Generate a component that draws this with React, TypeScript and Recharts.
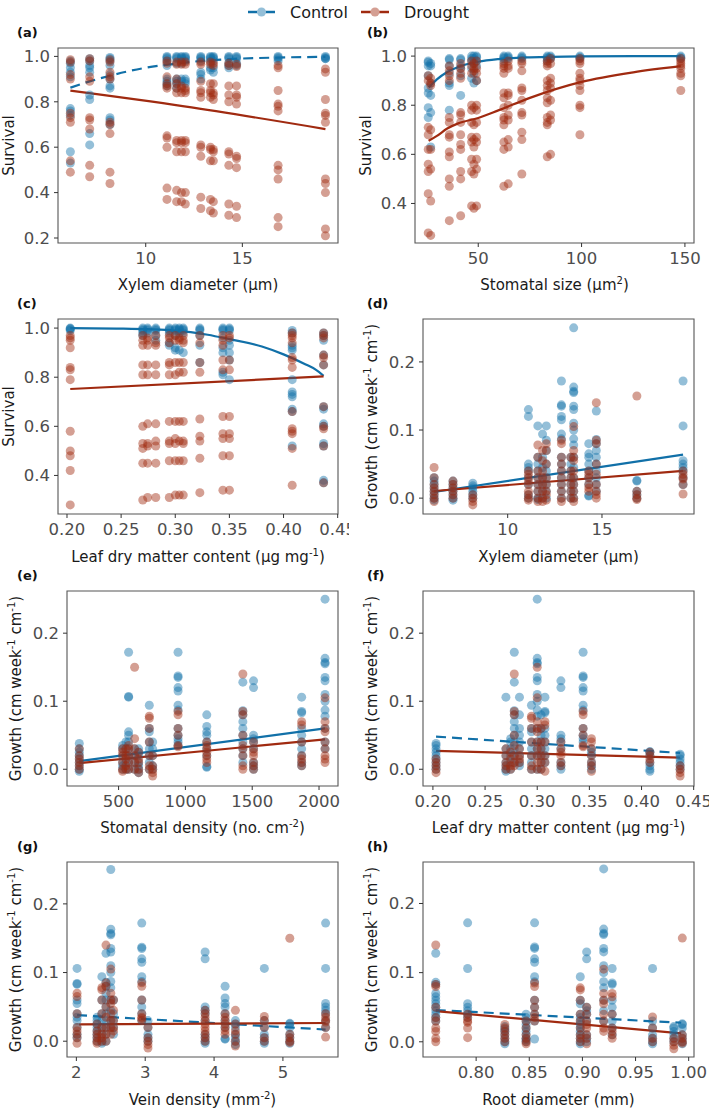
import { ComposedChart, Scatter, Line, XAxis, YAxis, ReferenceArea } from 'recharts'

const CONTROL = '#1170a8'
const DROUGHT = '#a02a10'
const FONT = 'DejaVu Sans, sans-serif'

// ---------- (a) survival vs xylem diameter ----------
const aX = [6.1, 7.1, 8.15, 11.1, 11.6, 11.85, 12.05, 12.85, 13.35, 13.5, 14.3, 14.7, 16.85, 19.3]
const aCtrl = [
  [0.98, 0.97, 0.95, 0.93, 0.91, 0.77, 0.76, 0.74, 0.58, 0.53],
  [0.99, 0.98, 0.96, 0.95, 0.93, 0.83, 0.81, 0.66, 0.61],
  [0.995, 0.99, 0.98, 0.96, 0.92, 0.9, 0.87, 0.86, 0.73, 0.72, 0.7],
  [1.0, 0.995, 0.99, 0.98, 0.96, 0.9, 0.89, 0.88, 0.87],
  [1.0, 0.995, 0.99, 0.97, 0.9, 0.89, 0.88, 0.86],
  [1.0, 0.995, 0.99, 0.97, 0.9, 0.89],
  [1.0, 0.995, 0.99, 0.98, 0.9, 0.89, 0.88],
  [1.0, 0.995, 0.99, 0.98, 0.93, 0.92, 0.9],
  [1.0, 0.995, 0.99, 0.98, 0.95, 0.94],
  [1.0, 0.995, 0.99, 0.98, 0.95, 0.93],
  [1.0, 0.995, 0.99, 0.97, 0.96, 0.95],
  [1.0, 0.995, 0.99, 0.97, 0.96],
  [1.0, 0.995, 0.99, 0.98],
  [1.0, 0.995, 0.99, 0.99],
]
const aDrought = [
  [0.985, 0.975, 0.92, 0.9, 0.75, 0.73, 0.71, 0.54, 0.49],
  [0.99, 0.98, 0.91, 0.89, 0.73, 0.72, 0.68, 0.52, 0.47],
  [0.985, 0.975, 0.93, 0.91, 0.9, 0.71, 0.7, 0.66, 0.49, 0.44],
  [0.98, 0.97, 0.91, 0.88, 0.87, 0.86, 0.65, 0.64, 0.6, 0.42, 0.37],
  [0.975, 0.965, 0.9, 0.88, 0.86, 0.84, 0.63, 0.62, 0.58, 0.41, 0.36],
  [0.975, 0.965, 0.87, 0.86, 0.84, 0.63, 0.62, 0.58, 0.4, 0.36],
  [0.975, 0.965, 0.86, 0.85, 0.84, 0.63, 0.62, 0.58, 0.4, 0.35],
  [0.975, 0.965, 0.89, 0.85, 0.84, 0.82, 0.61, 0.6, 0.56, 0.38, 0.33],
  [0.975, 0.965, 0.88, 0.85, 0.84, 0.82, 0.6, 0.59, 0.54, 0.37, 0.32],
  [0.97, 0.96, 0.88, 0.84, 0.83, 0.81, 0.59, 0.58, 0.54, 0.36, 0.31],
  [0.97, 0.96, 0.87, 0.83, 0.8, 0.58, 0.57, 0.52, 0.35, 0.3],
  [0.965, 0.955, 0.87, 0.83, 0.82, 0.79, 0.56, 0.55, 0.51, 0.34, 0.29],
  [0.96, 0.95, 0.85, 0.79, 0.78, 0.76, 0.52, 0.5, 0.46, 0.29, 0.25],
  [0.945, 0.93, 0.81, 0.75, 0.74, 0.71, 0.46, 0.44, 0.4, 0.24, 0.21],
]
const aFitCtrlX = [6.1, 7.1, 8.15, 10, 11.6, 12.85, 14.3, 16.85, 19.3]
const aFitCtrlY = [0.862, 0.89, 0.915, 0.95, 0.968, 0.98, 0.988, 0.995, 0.998]
const aFitDroughtX = [6.1, 12, 19.3]
const aFitDroughtY = [0.849, 0.78, 0.68]

// ---------- (b) survival vs stomatal size ----------
const bX = [25.8, 27, 36, 41.5, 46.8, 47.9, 49.2, 62.4, 64.5, 71.1, 83.4, 85, 99.2, 148]
const bCtrl = [
  [0.98, 0.975, 0.96, 0.92, 0.87, 0.85, 0.79, 0.75],
  [0.97, 0.96, 0.89, 0.84, 0.77, 0.63],
  [0.99, 0.985, 0.96, 0.93, 0.89, 0.88, 0.78],
  [0.99, 0.985, 0.96, 0.95, 0.92, 0.84],
  [1.0, 0.99, 0.98, 0.95, 0.91],
  [1.0, 0.99, 0.97, 0.93, 0.89],
  [1.0, 0.995, 0.98, 0.96, 0.9],
  [1.0, 0.995, 0.99, 0.98],
  [1.0, 0.995, 0.99],
  [1.0, 0.995, 0.99],
  [1.0, 0.995, 0.99, 0.98],
  [1.0, 0.995, 0.99],
  [1.0, 0.995, 0.99],
  [1.0, 0.995, 0.99],
]
const bDrought = [
  [0.92, 0.9, 0.71, 0.68, 0.62, 0.56, 0.53, 0.44, 0.28],
  [0.91, 0.89, 0.88, 0.7, 0.62, 0.54, 0.41, 0.27],
  [0.96, 0.94, 0.92, 0.9, 0.75, 0.73, 0.68, 0.67, 0.61, 0.59, 0.5, 0.47, 0.33],
  [0.97, 0.95, 0.93, 0.91, 0.77, 0.76, 0.73, 0.68, 0.64, 0.62, 0.53, 0.5, 0.35],
  [0.98, 0.96, 0.93, 0.8, 0.78, 0.73, 0.67, 0.65, 0.58, 0.53, 0.39],
  [0.97, 0.95, 0.94, 0.79, 0.72, 0.66, 0.63, 0.56, 0.52, 0.38],
  [0.98, 0.95, 0.93, 0.9, 0.8, 0.78, 0.73, 0.67, 0.65, 0.58, 0.54, 0.39],
  [0.97, 0.96, 0.95, 0.93, 0.85, 0.83, 0.79, 0.75, 0.74, 0.72, 0.65, 0.62, 0.47],
  [0.98, 0.96, 0.95, 0.85, 0.84, 0.8, 0.76, 0.74, 0.66, 0.63, 0.48],
  [0.98, 0.97, 0.94, 0.87, 0.86, 0.82, 0.77, 0.76, 0.69, 0.66, 0.52],
  [0.98, 0.97, 0.96, 0.9, 0.88, 0.86, 0.83, 0.81, 0.75, 0.73, 0.72, 0.59],
  [0.99, 0.97, 0.91, 0.89, 0.87, 0.82, 0.76, 0.74, 0.6],
  [0.99, 0.98, 0.97, 0.93, 0.91, 0.9, 0.88, 0.86, 0.8, 0.79, 0.68],
  [0.99, 0.98, 0.97, 0.96, 0.95, 0.93, 0.92, 0.86],
]
const bFitX = [26, 30, 35, 40, 50, 60, 75, 100, 125, 148]
const bFitCtrlY = [0.872, 0.905, 0.935, 0.955, 0.977, 0.988, 0.995, 0.999, 1.0, 1.0]
const bFitDroughtY = [0.655, 0.675, 0.705, 0.725, 0.748, 0.78, 0.83, 0.895, 0.934, 0.959]

// ---------- (c) survival vs leaf dry matter content ----------
const cX = [0.203, 0.27, 0.2745, 0.282, 0.2945, 0.3, 0.3037, 0.3074, 0.3227, 0.344, 0.35, 0.408, 0.437]
const cCtrl = [
  [1.0, 0.998, 0.995, 0.99],
  [1.0, 0.995, 0.99, 0.98, 0.97],
  [1.0, 0.995, 0.99, 0.98],
  [1.0, 0.995, 0.99, 0.97, 0.95],
  [1.0, 0.995, 0.99, 0.98, 0.94, 0.93],
  [1.0, 0.995, 0.99, 0.97, 0.92, 0.91],
  [1.0, 0.995, 0.99, 0.98, 0.91],
  [1.0, 0.995, 0.99, 0.98, 0.9],
  [1.0, 0.995, 0.99, 0.97, 0.93, 0.86],
  [1.0, 0.995, 0.99, 0.96, 0.92, 0.9, 0.82, 0.81],
  [1.0, 0.995, 0.99, 0.95, 0.93, 0.9, 0.87, 0.79],
  [0.99, 0.98, 0.93, 0.92, 0.91, 0.79, 0.74, 0.73, 0.72, 0.67, 0.66, 0.52],
  [0.98, 0.97, 0.95, 0.89, 0.85, 0.68, 0.67, 0.61, 0.6, 0.53, 0.52, 0.38, 0.37],
]
const cDrought = [
  [0.97, 0.96, 0.95, 0.92, 0.84, 0.83, 0.79, 0.58, 0.5, 0.48, 0.42, 0.28],
  [0.97, 0.95, 0.93, 0.85, 0.81, 0.6, 0.53, 0.51, 0.45, 0.3],
  [0.96, 0.95, 0.93, 0.85, 0.81, 0.61, 0.53, 0.52, 0.45, 0.31],
  [0.97, 0.94, 0.93, 0.85, 0.81, 0.61, 0.54, 0.52, 0.45, 0.31],
  [0.97, 0.96, 0.94, 0.86, 0.85, 0.81, 0.62, 0.54, 0.53, 0.46, 0.31],
  [0.97, 0.95, 0.86, 0.81, 0.62, 0.55, 0.53, 0.46, 0.32],
  [0.96, 0.95, 0.86, 0.82, 0.62, 0.54, 0.46, 0.32],
  [0.97, 0.95, 0.94, 0.86, 0.82, 0.62, 0.54, 0.53, 0.46, 0.32],
  [0.97, 0.94, 0.86, 0.82, 0.63, 0.56, 0.54, 0.47, 0.33],
  [0.97, 0.95, 0.93, 0.87, 0.83, 0.64, 0.57, 0.55, 0.48, 0.34],
  [0.97, 0.96, 0.87, 0.83, 0.64, 0.57, 0.55, 0.48, 0.34],
  [0.98, 0.97, 0.96, 0.94, 0.88, 0.87, 0.84, 0.66, 0.59, 0.58, 0.57, 0.51, 0.36],
  [0.98, 0.97, 0.96, 0.89, 0.88, 0.85, 0.68, 0.6, 0.59, 0.52, 0.37],
]
const cFitCtrlX = [0.203, 0.25, 0.3, 0.33, 0.35, 0.38, 0.4, 0.42, 0.43, 0.437]
const cFitCtrlY = [1.0, 0.998, 0.99, 0.973, 0.955, 0.925, 0.893, 0.853, 0.83, 0.806]
const cFitDroughtX = [0.203, 0.437]
const cFitDroughtY = [0.752, 0.803]

// ---------- (d) growth vs xylem diameter ----------
const dX = aX
const dCtrl = [
  [0.03, 0.025, 0.02, 0.015, 0.01, 0.005, 0.0, -0.003],
  [0.025, 0.02, 0.015, 0.01, 0.005, 0.0, -0.003],
  [0.022, 0.018, 0.015, 0.01, 0.005, 0.0],
  [0.13, 0.12, 0.05, 0.045, 0.04, 0.03, 0.02, 0.005, 0.0],
  [0.106, 0.06, 0.05, 0.04, 0.03, 0.02, 0.01, 0.0, -0.002],
  [0.094, 0.06, 0.045, 0.03, 0.02, 0.01, 0.0],
  [0.106, 0.085, 0.07, 0.05, 0.04, 0.03, 0.02, 0.01, 0.0],
  [0.172, 0.137, 0.135, 0.12, 0.115, 0.094, 0.087, 0.06, 0.05, 0.04, 0.03, 0.02, 0.01, 0.0],
  [0.06, 0.05, 0.04, 0.03, 0.02, 0.01, 0.0],
  [0.25, 0.163, 0.157, 0.155, 0.135, 0.13, 0.11, 0.1, 0.087, 0.078, 0.06, 0.045, 0.03, 0.02, 0.01, 0.0],
  [0.08, 0.065, 0.06, 0.05, 0.04, 0.03, 0.02, 0.004, 0.003],
  [0.128, 0.086, 0.08, 0.07, 0.06, 0.05, 0.04, 0.03, 0.02, 0.01],
  [0.026, 0.025, 0.01, 0.005, 0.0],
  [0.172, 0.106, 0.055, 0.05, 0.045, 0.04, 0.03, 0.02],
]
const dDrought = [
  [0.045, 0.03, 0.02, 0.015, 0.01, 0.005, 0.0, -0.005],
  [0.025, 0.02, 0.015, 0.01, 0.005, 0.0],
  [0.005, 0.0, -0.005, -0.01],
  [0.04, 0.035, 0.03, 0.025, 0.02, 0.01, 0.005, 0.0, -0.003],
  [0.078, 0.06, 0.04, 0.03, 0.02, 0.01, 0.0, -0.005],
  [0.07, 0.055, 0.04, 0.03, 0.02, 0.01, 0.0, -0.005],
  [0.08, 0.07, 0.05, 0.03, 0.02, 0.01, 0.005, -0.003],
  [0.085, 0.08, 0.06, 0.05, 0.04, 0.03, 0.02, 0.01, 0.0, -0.005],
  [0.06, 0.04, 0.03, 0.02, 0.01, 0.0],
  [0.105, 0.07, 0.06, 0.055, 0.04, 0.03, 0.02, 0.01, 0.0, -0.005],
  [0.04, 0.035, 0.03, 0.02, 0.015, 0.01],
  [0.14, 0.085, 0.08, 0.05, 0.035, 0.02, 0.01, 0.005, 0.0],
  [0.15, 0.01, 0.005, 0.0, -0.002],
  [0.04, 0.035, 0.03, 0.028, 0.02, 0.006],
]
const dFitX = [6.1, 19.3]
const dFitCtrlY = [0.009, 0.064]
const dFitDroughtY = [0.0105, 0.04]

// ---------- (e) growth vs stomatal density ----------
const eX = [206, 530, 555, 575, 620, 650, 730, 755, 945, 1160, 1430, 1510, 1870, 2045]
const eCtrl = [
  [0.038, 0.03, 0.025, 0.02, 0.015, 0.01, 0.005, 0.0, -0.003],
  [0.035, 0.03, 0.02, 0.01, 0.005, 0.0],
  [0.04, 0.03, 0.02, 0.01, 0.0],
  [0.172, 0.107, 0.106, 0.055, 0.05, 0.04, 0.03, 0.02, 0.01, 0.0],
  [0.03, 0.02, 0.01, 0.0],
  [0.03, 0.025, 0.02, 0.01, 0.005, 0.0, -0.005],
  [0.094, 0.06, 0.055, 0.04, 0.03, 0.02, 0.01, 0.0],
  [0.04, 0.03, 0.02, 0.005, 0.0],
  [0.172, 0.137, 0.135, 0.12, 0.115, 0.094, 0.087, 0.06, 0.05, 0.045, 0.04, 0.035],
  [0.08, 0.063, 0.055, 0.05, 0.04, 0.03, 0.02, 0.004, 0.003],
  [0.128, 0.086, 0.08, 0.07, 0.06, 0.05, 0.04, 0.03, 0.02, 0.01],
  [0.13, 0.12, 0.05, 0.045, 0.04, 0.03, 0.01, 0.005, 0.0],
  [0.106, 0.085, 0.083, 0.06, 0.05, 0.04, 0.03, 0.02, 0.01, 0.005],
  [0.25, 0.163, 0.157, 0.155, 0.135, 0.13, 0.11, 0.1, 0.087, 0.078, 0.06, 0.04, 0.03],
]
const eDrought = [
  [0.03, 0.02, 0.015, 0.01, 0.005, 0.0],
  [0.03, 0.025, 0.02, 0.01, 0.0, -0.003],
  [0.03, 0.02, 0.015, 0.005, 0.0],
  [0.035, 0.03, 0.02, 0.01, 0.0],
  [0.15, 0.045, 0.03, 0.02, 0.01, 0.0],
  [0.025, 0.015, 0.01, 0.0, -0.005],
  [0.078, 0.075, 0.06, 0.04, 0.02, 0.005, 0.0],
  [0.02, 0.005, 0.0, -0.005, -0.01],
  [0.085, 0.08, 0.06, 0.05, 0.035, 0.033],
  [0.04, 0.035, 0.03, 0.025, 0.02, 0.015, 0.01],
  [0.14, 0.085, 0.08, 0.05, 0.035, 0.03, 0.02, 0.005, 0.0],
  [0.04, 0.03, 0.025, 0.02, 0.01, 0.005, 0.0],
  [0.07, 0.065, 0.04, 0.02, 0.015, 0.01, 0.005],
  [0.105, 0.07, 0.06, 0.055, 0.04, 0.03, 0.02, 0.015, 0.01],
]
const eFitX = [206, 2045]
const eFitCtrlY = [0.012, 0.06]
const eFitDroughtY = [0.009, 0.044]

// ---------- (f) growth vs leaf dry matter content ----------
const fX = [0.203, 0.27, 0.2745, 0.278, 0.283, 0.2945, 0.3, 0.3037, 0.3074, 0.3227, 0.344, 0.352, 0.408, 0.437]
const fCtrl = [
  [0.038, 0.035, 0.03, 0.025, 0.02, 0.015, 0.01, 0.005, 0.0],
  [0.106, 0.03, 0.02, 0.01, 0.005, 0.0, -0.003],
  [0.045, 0.04, 0.03, 0.02, 0.01, 0.0],
  [0.172, 0.128, 0.086, 0.08, 0.07, 0.06, 0.05, 0.04, 0.03, 0.02, 0.01],
  [0.106, 0.08, 0.06, 0.05, 0.04, 0.03, 0.02, 0.01, 0.005],
  [0.094, 0.06, 0.055, 0.04, 0.03, 0.02, 0.01, 0.0],
  [0.25, 0.163, 0.157, 0.155, 0.135, 0.13, 0.11, 0.1, 0.087, 0.078, 0.06, 0.04, 0.03, 0.02, 0.0],
  [0.08, 0.06, 0.05, 0.04, 0.03, 0.02, 0.01, 0.0],
  [0.106, 0.085, 0.083, 0.06, 0.05, 0.04, 0.03, 0.02, 0.01],
  [0.13, 0.12, 0.05, 0.045, 0.04, 0.03, 0.01, 0.005, 0.0],
  [0.172, 0.137, 0.135, 0.12, 0.115, 0.094, 0.087, 0.06, 0.05, 0.045, 0.04],
  [0.03, 0.025, 0.02, 0.01, 0.005, 0.0],
  [0.026, 0.025, 0.02, 0.01, 0.005, 0.0, -0.003],
  [0.022, 0.02, 0.015, 0.01, 0.005, 0.0],
]
const fDrought = [
  [0.015, 0.01, 0.005, 0.0, -0.005],
  [0.03, 0.02, 0.01, 0.005, 0.0],
  [0.025, 0.015, 0.005, 0.0],
  [0.14, 0.085, 0.08, 0.05, 0.035, 0.02, 0.01, 0.005],
  [0.03, 0.02, 0.015, 0.01],
  [0.078, 0.075, 0.06, 0.04, 0.02, 0.005, 0.0],
  [0.15, 0.105, 0.07, 0.06, 0.055, 0.04, 0.03, 0.02, 0.01, 0.0],
  [0.06, 0.04, 0.03, 0.02, 0.01, 0.0],
  [0.07, 0.065, 0.04, 0.02, 0.01, -0.003],
  [0.04, 0.03, 0.025, 0.02, 0.01, 0.005],
  [0.085, 0.08, 0.06, 0.05, 0.035, 0.033],
  [0.045, 0.04, 0.03, 0.02, 0.01, 0.005, -0.003],
  [0.025, 0.02, 0.015, 0.01],
  [0.005, 0.0, -0.005, -0.01],
]
const fFitX = [0.203, 0.437]
const fFitCtrlY = [0.048, 0.024]
const fFitDroughtY = [0.027, 0.017]

// ---------- (g) growth vs vein density ----------
const gX = [2.01, 2.3, 2.37, 2.43, 2.5, 2.54, 2.95, 3.04, 3.87, 4.16, 4.31, 4.73, 5.1, 5.62]
const gCtrl = [
  [0.106, 0.084, 0.083, 0.06, 0.055, 0.04, 0.035, 0.03, 0.02, 0.01, 0.005],
  [0.035, 0.03, 0.025, 0.02, 0.015, 0.01, 0.005, 0.0],
  [0.094, 0.06, 0.04, 0.03, 0.02, 0.01, 0.0, -0.003],
  [0.128, 0.086, 0.08, 0.07, 0.06, 0.05, 0.04, 0.03, 0.02, 0.01, 0.0],
  [0.25, 0.163, 0.157, 0.155, 0.135, 0.13, 0.11, 0.1, 0.087, 0.078, 0.06, 0.045, 0.03, 0.02],
  [0.06, 0.04, 0.03, 0.02, 0.01],
  [0.172, 0.137, 0.135, 0.12, 0.115, 0.094, 0.087, 0.06, 0.05, 0.04, 0.03],
  [0.03, 0.02, 0.01, 0.005, 0.0],
  [0.13, 0.12, 0.05, 0.045, 0.04, 0.03, 0.01, 0.005, 0.0, -0.003],
  [0.08, 0.063, 0.055, 0.05, 0.04, 0.03, 0.02, 0.004, 0.003],
  [0.03, 0.025, 0.02, 0.01, 0.005, 0.0, -0.005],
  [0.106, 0.03, 0.02, 0.01, 0.005, 0.0, -0.003],
  [0.026, 0.025, 0.02, 0.01, 0.005, 0.0, -0.003],
  [0.172, 0.106, 0.055, 0.05, 0.045, 0.04, 0.03, 0.02],
]
const gDrought = [
  [0.07, 0.065, 0.04, 0.02, 0.015, 0.01, 0.005, -0.003],
  [0.025, 0.015, 0.01, 0.005, 0.0, -0.003],
  [0.078, 0.075, 0.06, 0.04, 0.02, 0.01, 0.005, 0.0],
  [0.14, 0.085, 0.08, 0.05, 0.035, 0.02, 0.01, 0.0],
  [0.105, 0.07, 0.06, 0.055, 0.04, 0.03, 0.02, 0.01],
  [0.06, 0.045, 0.03, 0.02, 0.015],
  [0.085, 0.08, 0.06, 0.04, 0.035, 0.033, 0.03],
  [0.02, 0.005, 0.0, -0.005, -0.01],
  [0.045, 0.04, 0.035, 0.03, 0.025, 0.02, 0.015, 0.01, 0.005, 0.0],
  [0.04, 0.035, 0.03, 0.025, 0.02, 0.015, 0.01],
  [0.045, 0.025, 0.015, 0.01, 0.0, -0.007],
  [0.036, 0.03, 0.02, 0.005, 0.0],
  [0.15, 0.01, 0.005, 0.0, -0.002],
  [0.04, 0.035, 0.03, 0.028, 0.02, 0.006],
]
const gFitCtrlX = [2.01, 5.62]
const gFitCtrlY = [0.038, 0.017]
const gFitDroughtX = [2.04, 5.62]
const gFitDroughtY = [0.0245, 0.0265]

// ---------- (h) growth vs root diameter ----------
const hX = [0.762, 0.792, 0.827, 0.847, 0.855, 0.898, 0.904, 0.92, 0.928, 0.966, 0.986, 0.994]
const hCtrl = [
  [0.128, 0.086, 0.083, 0.07, 0.065, 0.06, 0.055, 0.05, 0.045, 0.04, 0.035, 0.03],
  [0.172, 0.106, 0.055, 0.05, 0.045, 0.04, 0.035],
  [0.022, 0.018, 0.015, 0.01, 0.005, 0.0, -0.003],
  [0.04, 0.035, 0.03, 0.025, 0.02, 0.015, 0.01, 0.005, 0.003, 0.0],
  [0.172, 0.137, 0.135, 0.12, 0.115, 0.094, 0.087, 0.06, 0.05, 0.04, 0.03, 0.004],
  [0.094, 0.06, 0.055, 0.04, 0.035, 0.03, 0.025, 0.02, 0.015, 0.01, 0.005, 0.0, -0.003],
  [0.13, 0.12, 0.05, 0.045, 0.04, 0.03, 0.01, 0.005, 0.0],
  [0.25, 0.163, 0.157, 0.155, 0.135, 0.13, 0.11, 0.1, 0.087, 0.078, 0.06, 0.045, 0.03],
  [0.106, 0.085, 0.083, 0.06, 0.05, 0.04, 0.03, 0.02, 0.01],
  [0.106, 0.03, 0.02, 0.01, 0.005, 0.0, -0.003],
  [0.022, 0.02, 0.015, 0.01, 0.005, 0.0],
  [0.026, 0.025, 0.02, 0.01, 0.005, 0.0, -0.003],
]
const hDrought = [
  [0.14, 0.083, 0.08, 0.05, 0.035, 0.03, 0.02, 0.015, 0.005, 0.0],
  [0.04, 0.035, 0.03, 0.028, 0.02, 0.006],
  [0.025, 0.02, 0.015, 0.01, 0.005, 0.0],
  [0.03, 0.02, 0.01, 0.005, 0.0, -0.003],
  [0.085, 0.08, 0.06, 0.05, 0.04, 0.035, 0.03],
  [0.078, 0.075, 0.06, 0.04, 0.03, 0.02, 0.01, 0.005, 0.0],
  [0.05, 0.04, 0.03, 0.025, 0.02, 0.01, 0.005, -0.003],
  [0.105, 0.07, 0.06, 0.055, 0.04, 0.03, 0.02, 0.015],
  [0.07, 0.065, 0.04, 0.02, 0.015, 0.01, 0.005],
  [0.036, 0.02, 0.005, 0.0],
  [0.005, 0.0, -0.005, -0.01],
  [0.15, 0.01, 0.005, 0.0, -0.002],
]
const hFitX = [0.762, 0.993]
const hFitCtrlY = [0.046, 0.0275]
const hFitDroughtY = [0.0444, 0.0121]

// ---------- helpers ----------
type Pt = { x: number; y: number }
const toPoints = (xs: number[], cols: number[][]): Pt[] => xs.flatMap((x, i) => cols[i].map((y) => ({ x, y })))
const toLine = (xs: number[], ys: number[]): Pt[] => xs.map((x, i) => ({ x, y: ys[i] }))

type Part = string | { sup: string }
interface PanelDef {
  tag: string
  col: 0 | 1
  top: number
  plotLeft: number
  xDomain: [number, number]
  yDomain: [number, number]
  xTicks: number[]
  yTicks: number[]
  xFmt: (v: number) => string
  ctrl: Pt[]
  drought: Pt[]
  ctrlFit: Pt[]
  droughtFit: Pt[]
  ctrlDashed: boolean
  droughtDashed: boolean
  xTitle: Part[]
  yTitle: Part[]
}

const PLOT_H = 195
const ROW_TOPS = [48, 319, 591, 862]
const COL_LEFT = [0, 352]
const COL_W = [349, 357]
const COL_RIGHT = [338, 694]

const fmt0 = (v: number) => String(v)
const fmt2 = (v: number) => v.toFixed(2)
const survTitle: Part[] = ['Survival']
const growthTitle: Part[] = ['Growth (cm week', { sup: '-1' }, ' cm', { sup: '-1' }, ')']
const survTicks = [0.4, 0.6, 0.8, 1.0]
const growthTicks = [0, 0.1, 0.2]
const ldmcTicks = [0.2, 0.25, 0.3, 0.35, 0.4, 0.45]

const panels: PanelDef[] = [
  {
    tag: '(a)', col: 0, top: ROW_TOPS[0], plotLeft: 58,
    xDomain: [5.46, 19.95], yDomain: [0.178, 1.037], xTicks: [10, 15], yTicks: [0.2, ...survTicks], xFmt: fmt0,
    ctrl: toPoints(aX, aCtrl), drought: toPoints(aX, aDrought),
    ctrlFit: toLine(aFitCtrlX, aFitCtrlY), droughtFit: toLine(aFitDroughtX, aFitDroughtY),
    ctrlDashed: true, droughtDashed: false,
    xTitle: ['Xylem diameter (μm)'], yTitle: survTitle,
  },
  {
    tag: '(b)', col: 1, top: ROW_TOPS[0], plotLeft: 415,
    xDomain: [19.4, 154.4], yDomain: [0.239, 1.033], xTicks: [50, 100, 150], yTicks: survTicks, xFmt: fmt0,
    ctrl: toPoints(bX, bCtrl), drought: toPoints(bX, bDrought),
    ctrlFit: toLine(bFitX, bFitCtrlY), droughtFit: toLine(bFitX, bFitDroughtY),
    ctrlDashed: false, droughtDashed: false,
    xTitle: ['Stomatal size (μm', { sup: '2' }, ')'], yTitle: survTitle,
  },
  {
    tag: '(c)', col: 0, top: ROW_TOPS[1], plotLeft: 58,
    xDomain: [0.1917, 0.4503], yDomain: [0.243, 1.037], xTicks: ldmcTicks, yTicks: survTicks, xFmt: fmt2,
    ctrl: toPoints(cX, cCtrl), drought: toPoints(cX, cDrought),
    ctrlFit: toLine(cFitCtrlX, cFitCtrlY), droughtFit: toLine(cFitDroughtX, cFitDroughtY),
    ctrlDashed: false, droughtDashed: false,
    xTitle: ['Leaf dry matter content (μg mg', { sup: '-1' }, ')'], yTitle: survTitle,
  },
  {
    tag: '(d)', col: 1, top: ROW_TOPS[1], plotLeft: 423,
    xDomain: [5.51, 19.88], yDomain: [-0.0233, 0.263], xTicks: [10, 15], yTicks: growthTicks, xFmt: fmt0,
    ctrl: toPoints(dX, dCtrl), drought: toPoints(dX, dDrought),
    ctrlFit: toLine(dFitX, dFitCtrlY), droughtFit: toLine(dFitX, dFitDroughtY),
    ctrlDashed: false, droughtDashed: false,
    xTitle: ['Xylem diameter (μm)'], yTitle: growthTitle,
  },
  {
    tag: '(e)', col: 0, top: ROW_TOPS[2], plotLeft: 67,
    xDomain: [114, 2142], yDomain: [-0.0246, 0.262], xTicks: [500, 1000, 1500, 2000], yTicks: growthTicks, xFmt: fmt0,
    ctrl: toPoints(eX, eCtrl), drought: toPoints(eX, eDrought),
    ctrlFit: toLine(eFitX, eFitCtrlY), droughtFit: toLine(eFitX, eFitDroughtY),
    ctrlDashed: false, droughtDashed: false,
    xTitle: ['Stomatal density (no. cm', { sup: '-2' }, ')'], yTitle: growthTitle,
  },
  {
    tag: '(f)', col: 1, top: ROW_TOPS[2], plotLeft: 423,
    xDomain: [0.1905, 0.4503], yDomain: [-0.0246, 0.262], xTicks: ldmcTicks, yTicks: growthTicks, xFmt: fmt2,
    ctrl: toPoints(fX, fCtrl), drought: toPoints(fX, fDrought),
    ctrlFit: toLine(fFitX, fFitCtrlY), droughtFit: toLine(fFitX, fFitDroughtY),
    ctrlDashed: true, droughtDashed: false,
    xTitle: ['Leaf dry matter content (μg mg', { sup: '-1' }, ')'], yTitle: growthTitle,
  },
  {
    tag: '(g)', col: 0, top: ROW_TOPS[3], plotLeft: 67,
    xDomain: [1.864, 5.8], yDomain: [-0.023, 0.261], xTicks: [2, 3, 4, 5], yTicks: growthTicks, xFmt: fmt0,
    ctrl: toPoints(gX, gCtrl), drought: toPoints(gX, gDrought),
    ctrlFit: toLine(gFitCtrlX, gFitCtrlY), droughtFit: toLine(gFitDroughtX, gFitDroughtY),
    ctrlDashed: true, droughtDashed: false,
    xTitle: ['Vein density (mm', { sup: '-2' }, ')'], yTitle: growthTitle,
  },
  {
    tag: '(h)', col: 1, top: ROW_TOPS[3], plotLeft: 423,
    xDomain: [0.75, 1.005], yDomain: [-0.022, 0.26], xTicks: [0.8, 0.85, 0.9, 0.95, 1.0], yTicks: growthTicks, xFmt: fmt2,
    ctrl: toPoints(hX, hCtrl), drought: toPoints(hX, hDrought),
    ctrlFit: toLine(hFitX, hFitCtrlY), droughtFit: toLine(hFitX, hFitDroughtY),
    ctrlDashed: true, droughtDashed: false,
    xTitle: ['Root diameter (mm)'], yTitle: growthTitle,
  },
]

const dot = (color: string) => (props: any) => (
  <circle cx={props.cx} cy={props.cy} r={4.5} fill={color} fillOpacity={0.45} />
)

const tickStyle = { fill: '#4d4d4d', fontSize: 16.5, fontFamily: FONT }

function Panel({ p }: { p: PanelDef }) {
  const left = COL_LEFT[p.col]
  const width = COL_W[p.col]
  const right = COL_RIGHT[p.col]
  const mTop = 8
  const axisH = 32
  return (
    <div style={{ position: 'absolute', left, top: p.top - mTop }}>
      <ComposedChart
        width={width}
        height={mTop + PLOT_H + axisH}
        margin={{ top: mTop, right: left + width - right, bottom: 0, left: 0 }}
      >
        <XAxis
          type="number" dataKey="x" domain={p.xDomain} ticks={p.xTicks} tickFormatter={p.xFmt}
          allowDataOverflow interval={0} height={axisH} axisLine={false}
          tickSize={4} tickMargin={5} tick={tickStyle} tickLine={{ stroke: '#333' }}
        />
        <YAxis
          type="number" dataKey="y" domain={p.yDomain} ticks={p.yTicks} tickFormatter={(v: number) => v.toFixed(1)}
          allowDataOverflow interval={0} width={p.plotLeft - left} axisLine={false}
          tickSize={4} tickMargin={4} tick={tickStyle} tickLine={{ stroke: '#333' }}
        />
        <ReferenceArea
          x1={p.xDomain[0]} x2={p.xDomain[1]} y1={p.yDomain[0]} y2={p.yDomain[1]}
          fill="none" stroke="#555" strokeWidth={1.1} ifOverflow="visible"
        />
        <Scatter data={p.ctrl} shape={dot(CONTROL)} isAnimationActive={false} />
        <Scatter data={p.drought} shape={dot(DROUGHT)} isAnimationActive={false} />
        <Line
          data={p.ctrlFit} dataKey="y" type="monotone" stroke={CONTROL} strokeWidth={2.2}
          strokeDasharray={p.ctrlDashed ? '10 6' : undefined} dot={false} activeDot={false} isAnimationActive={false}
        />
        <Line
          data={p.droughtFit} dataKey="y" type="monotone" stroke={DROUGHT} strokeWidth={2.2}
          strokeDasharray={p.droughtDashed ? '10 6' : undefined} dot={false} activeDot={false} isAnimationActive={false}
        />
      </ComposedChart>
    </div>
  )
}

// text with superscripts
function Rich({ parts, x, y, rotate, size = 15 }: { parts: Part[]; x: number; y: number; rotate?: boolean; size?: number }) {
  let up = false
  const spans = parts.map((s, i) => {
    if (typeof s === 'string') {
      const dy = up ? 6 : 0
      up = false
      return <tspan key={i} dy={dy}>{s}</tspan>
    }
    up = true
    return <tspan key={i} dy={-6} fontSize={10}>{s.sup}</tspan>
  })
  return (
    <text
      x={rotate ? -y : x} y={rotate ? x : y} transform={rotate ? 'rotate(-90)' : undefined}
      textAnchor="middle" fontSize={size} fontFamily={FONT} fill="#1a1a1a"
    >
      {spans}
    </text>
  )
}

const X_TITLE_BASE = [290, 562, 833, 1105]

function Overlay() {
  return (
    <svg width={709} height={1111} style={{ position: 'absolute', left: 0, top: 0, pointerEvents: 'none' }}>
      {/* legend */}
      <line x1={248} x2={275} y1={12} y2={12} stroke={CONTROL} strokeWidth={2.5} />
      <circle cx={261.5} cy={12} r={4.5} fill="#fff" />
      <circle cx={261.5} cy={12} r={4.5} fill={CONTROL} fillOpacity={0.45} />
      <text x={290} y={18} fontSize={16} fontFamily={FONT} fill="#1a1a1a">Control</text>
      <line x1={361} x2={389} y1={12} y2={12} stroke={DROUGHT} strokeWidth={2.5} />
      <circle cx={375} cy={12} r={4.5} fill="#fff" />
      <circle cx={375} cy={12} r={4.5} fill={DROUGHT} fillOpacity={0.45} />
      <text x={404} y={18} fontSize={16} fontFamily={FONT} fill="#1a1a1a">Drought</text>
      {panels.map((p) => {
        const row = ROW_TOPS.indexOf(p.top)
        const right = COL_RIGHT[p.col]
        const survival = p.yTitle === survTitle
        const yBase = p.col === 0 ? (survival ? 14 : 21) : survival ? 371 : 377
        return (
          <g key={p.tag}>
            <text x={p.col === 0 ? 17 : 367} y={p.top - 11} fontSize={13} fontWeight="bold" fontFamily={FONT} fill="#111">
              {p.tag}
            </text>
            <Rich parts={p.xTitle} x={(p.plotLeft + right) / 2} y={X_TITLE_BASE[row]} />
            <Rich parts={p.yTitle} x={yBase} y={p.top + PLOT_H / 2} rotate />
          </g>
        )
      })}
    </svg>
  )
}

export default function App() {
  return (
    <div style={{ position: 'absolute', left: 0, top: 0, width: 709, height: 1111, background: '#fff' }}>
      {panels.map((p) => (
        <Panel key={p.tag} p={p} />
      ))}
      <Overlay />
    </div>
  )
}
